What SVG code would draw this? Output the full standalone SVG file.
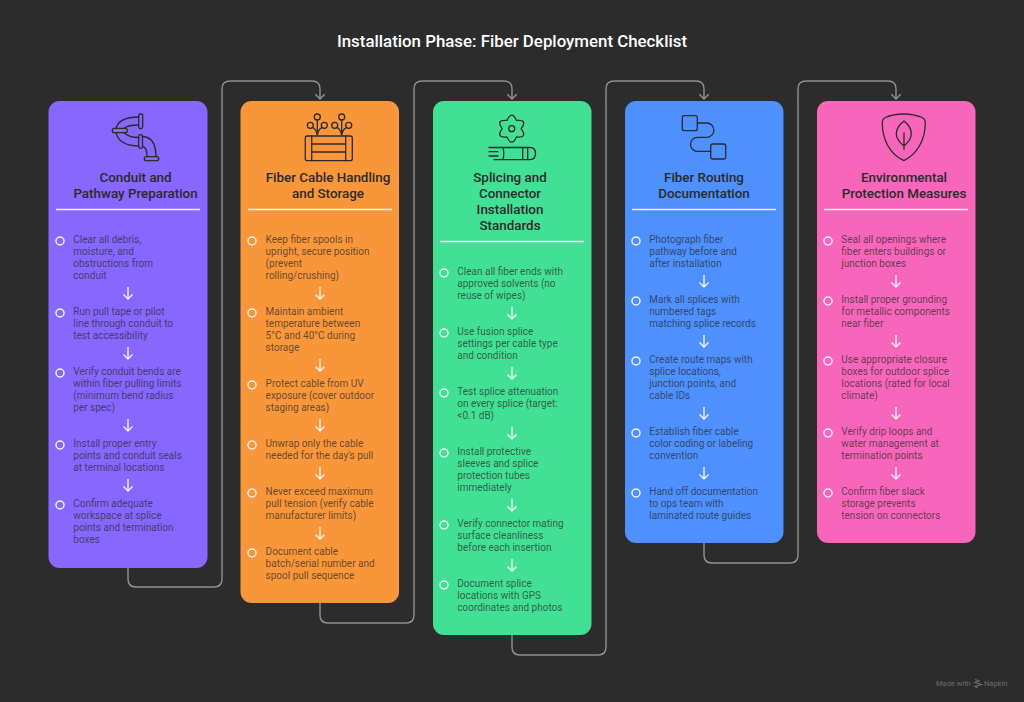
<svg xmlns="http://www.w3.org/2000/svg" width="1024" height="702" viewBox="0 0 1024 702">
<style>
text{font-family:Roboto,"Liberation Sans",sans-serif}
.ti{font-size:16.85px;font-weight:500;fill:#fff;text-anchor:middle}
.h{font-size:13.4px;font-weight:500;fill:#2b2b2b;text-anchor:middle}
.t{font-size:10px;fill:#2b2b2b;fill-opacity:.72}
.rule{stroke:#fff;stroke-width:1.3;opacity:.9}
.b{fill:none;stroke:#fff;stroke-width:1.5;opacity:.9}
.a{fill:none;stroke:#fff;stroke-width:1.4;opacity:.9}
.c{fill:none;stroke:#909090;stroke-width:1.4}
.i{fill:none;stroke:#2b2b2b;stroke-width:1.3;stroke-linejoin:round;stroke-linecap:round}
</style>
<defs>
<path id="ad" d="M0 -6V6M-4.500 1.500L0 6L4.500 1.500"/>
</defs>
<rect width="1024" height="702" fill="#2c2c2c"/>
<text class="ti" x="512" y="47">Installation Phase: Fiber Deployment Checklist</text>
<g id="connectors">
<path class="c" d="M128 568V579Q128 587 136 587H214Q222 587 222 579V89Q222 81 230 81H312Q320 81 320 89V99M315.300 94.300L320 99L324.700 94.300"/>
<path class="c" d="M320 603V615Q320 623 328 623H406Q414 623 414 615V89Q414 81 422 81H504Q512 81 512 89V99M507.300 94.300L512 99L516.700 94.300"/>
<path class="c" d="M512 635V647Q512 655 520 655H598Q606 655 606 647V89Q606 81 614 81H696Q704 81 704 89V99M699.300 94.300L704 99L708.700 94.300"/>
<path class="c" d="M704 543V555Q704 563 712 563H790Q798 563 798 555V89Q798 81 806 81H888Q896 81 896 89V99M891.300 94.300L896 99L900.700 94.300"/>
</g>
<g id="card1">
<rect x="48.500" y="101" width="159" height="467" rx="11" fill="#8667ff"/>
<g class="i"><rect x="138.700" y="114" width="4" height="14.500" rx="1.500"/><rect x="112.300" y="128.300" width="15" height="4.400" rx="2"/><rect x="138.700" y="134.700" width="3.800" height="13.600" rx="1.500"/><rect x="144.300" y="156.700" width="14.400" height="4" rx="2"/><path d="M138.700 117Q119 117 116 128.300M138.700 125Q128 125 124 128.300M116 132.700Q119 146 138.700 146M124 132.700Q129 137.500 138.700 137.500M142.500 136.500Q156 137 156 156.700M142.500 146.500Q147 147 147 156.700"/></g>
<text class="h" x="135.500" y="182">Conduit and</text>
<text class="h" x="135.500" y="198">Pathway Preparation</text>
<line class="rule" x1="56" x2="200" y1="209.500" y2="209.500"/>
<circle class="b" cx="60" cy="241" r="4"/>
<text class="t" x="73.300" y="242.500">Clear all debris,</text>
<text class="t" x="73.300" y="254.500">moisture, and</text>
<text class="t" x="73.300" y="266.500">obstructions from</text>
<text class="t" x="73.300" y="278.500">conduit</text>
<use href="#ad" class="a" x="128" y="293"/>
<circle class="b" cx="60" cy="313" r="4"/>
<text class="t" x="73.300" y="314.500">Run pull tape or pilot</text>
<text class="t" x="73.300" y="326.500">line through conduit to</text>
<text class="t" x="73.300" y="338.500">test accessibility</text>
<use href="#ad" class="a" x="128" y="353"/>
<circle class="b" cx="60" cy="373" r="4"/>
<text class="t" x="73.300" y="374.500">Verify conduit bends are</text>
<text class="t" x="73.300" y="386.500">within fiber pulling limits</text>
<text class="t" x="73.300" y="398.500">(minimum bend radius</text>
<text class="t" x="73.300" y="410.500">per spec)</text>
<use href="#ad" class="a" x="128" y="425"/>
<circle class="b" cx="60" cy="445" r="4"/>
<text class="t" x="73.300" y="446.500">Install proper entry</text>
<text class="t" x="73.300" y="458.500">points and conduit seals</text>
<text class="t" x="73.300" y="470.500">at terminal locations</text>
<use href="#ad" class="a" x="128" y="485"/>
<circle class="b" cx="60" cy="505" r="4"/>
<text class="t" x="73.300" y="506.500">Confirm adequate</text>
<text class="t" x="73.300" y="518.500">workspace at splice</text>
<text class="t" x="73.300" y="530.500">points and termination</text>
<text class="t" x="73.300" y="542.500">boxes</text>
</g>
<g id="card2">
<rect x="240.500" y="101" width="158.500" height="502" rx="11" fill="#f99639"/>
<g class="i"><rect x="305.300" y="136" width="47" height="24.700" rx="2"/><path d="M311.700 136V160.700M345.700 136V160.700M311.700 144H345.700M311.700 152H345.700"/><circle cx="317.300" cy="117" r="3"/><circle cx="310.300" cy="125.300" r="3"/><circle cx="324.300" cy="125.300" r="3"/><path d="M317.300 120V135M317.300 135Q316 129 312.500 127.500M317.300 135Q318.500 129 322 127.500"/><circle cx="341.700" cy="117" r="3"/><circle cx="334.700" cy="125.300" r="3"/><circle cx="348.700" cy="125.300" r="3"/><path d="M341.700 120V135M341.700 135Q340.500 129 337 127.500M341.700 135Q343 129 346.500 127.500"/></g>
<text class="h" x="328" y="182">Fiber Cable Handling</text>
<text class="h" x="328" y="198">and Storage</text>
<line class="rule" x1="248" x2="392" y1="209.500" y2="209.500"/>
<circle class="b" cx="252" cy="241" r="4"/>
<text class="t" x="265.600" y="242.500">Keep fiber spools in</text>
<text class="t" x="265.600" y="254.500">upright, secure position</text>
<text class="t" x="265.600" y="266.500">(prevent</text>
<text class="t" x="265.600" y="278.500">rolling/crushing)</text>
<use href="#ad" class="a" x="320" y="293"/>
<circle class="b" cx="252" cy="313" r="4"/>
<text class="t" x="265.600" y="314.500">Maintain ambient</text>
<text class="t" x="265.600" y="326.500">temperature between</text>
<text class="t" x="265.600" y="338.500">5°C and 40°C during</text>
<text class="t" x="265.600" y="350.500">storage</text>
<use href="#ad" class="a" x="320" y="365"/>
<circle class="b" cx="252" cy="385" r="4"/>
<text class="t" x="265.600" y="386.500">Protect cable from UV</text>
<text class="t" x="265.600" y="398.500">exposure (cover outdoor</text>
<text class="t" x="265.600" y="410.500">staging areas)</text>
<use href="#ad" class="a" x="320" y="425"/>
<circle class="b" cx="252" cy="445" r="4"/>
<text class="t" x="265.600" y="446.500">Unwrap only the cable</text>
<text class="t" x="265.600" y="458.500">needed for the day's pull</text>
<use href="#ad" class="a" x="320" y="473"/>
<circle class="b" cx="252" cy="493" r="4"/>
<text class="t" x="265.600" y="494.500">Never exceed maximum</text>
<text class="t" x="265.600" y="506.500">pull tension (verify cable</text>
<text class="t" x="265.600" y="518.500">manufacturer limits)</text>
<use href="#ad" class="a" x="320" y="533"/>
<circle class="b" cx="252" cy="553" r="4"/>
<text class="t" x="265.600" y="554.500">Document cable</text>
<text class="t" x="265.600" y="566.500">batch/serial number and</text>
<text class="t" x="265.600" y="578.500">spool pull sequence</text>
</g>
<g id="card3">
<rect x="433" y="101" width="158.500" height="534" rx="11" fill="#41e094"/>
<g class="i"><circle cx="511.700" cy="128.700" r="3"/><path transform="translate(511.700 128.700)" d="M-4.750 -8.230Q0 -18.800 4.750 -8.230Q16.280 -9.400 9.500 0Q16.280 9.400 4.750 8.230Q0 18.800 -4.750 8.230Q-16.280 9.400 -9.500 0Q-16.280 -9.400 -4.750 -8.230Z"/><path d="M489 147.500H530Q535.500 147.500 535.500 153.600Q535.500 159.700 530 159.700H494M503 147.500Q504.500 153.600 503 159.700M489 151.700H498M489 156H498M522.700 147.500V159.700M527.700 147.500V159.700"/></g>
<text class="h" x="510" y="182">Splicing and</text>
<text class="h" x="510" y="198">Connector</text>
<text class="h" x="510" y="214">Installation</text>
<text class="h" x="510" y="230">Standards</text>
<line class="rule" x1="440" x2="584" y1="241.500" y2="241.500"/>
<circle class="b" cx="444" cy="273" r="4"/>
<text class="t" x="457.300" y="274.500">Clean all fiber ends with</text>
<text class="t" x="457.300" y="286.500">approved solvents (no</text>
<text class="t" x="457.300" y="298.500">reuse of wipes)</text>
<use href="#ad" class="a" x="512" y="313"/>
<circle class="b" cx="444" cy="333" r="4"/>
<text class="t" x="457.300" y="334.500">Use fusion splice</text>
<text class="t" x="457.300" y="346.500">settings per cable type</text>
<text class="t" x="457.300" y="358.500">and condition</text>
<use href="#ad" class="a" x="512" y="373"/>
<circle class="b" cx="444" cy="393" r="4"/>
<text class="t" x="457.300" y="394.500">Test splice attenuation</text>
<text class="t" x="457.300" y="406.500">on every splice (target:</text>
<text class="t" x="457.300" y="418.500">&lt;0.1 dB)</text>
<use href="#ad" class="a" x="512" y="433"/>
<circle class="b" cx="444" cy="453" r="4"/>
<text class="t" x="457.300" y="454.500">Install protective</text>
<text class="t" x="457.300" y="466.500">sleeves and splice</text>
<text class="t" x="457.300" y="478.500">protection tubes</text>
<text class="t" x="457.300" y="490.500">immediately</text>
<use href="#ad" class="a" x="512" y="505"/>
<circle class="b" cx="444" cy="525" r="4"/>
<text class="t" x="457.300" y="526.500">Verify connector mating</text>
<text class="t" x="457.300" y="538.500">surface cleanliness</text>
<text class="t" x="457.300" y="550.500">before each insertion</text>
<use href="#ad" class="a" x="512" y="565"/>
<circle class="b" cx="444" cy="585" r="4"/>
<text class="t" x="457.300" y="586.500">Document splice</text>
<text class="t" x="457.300" y="598.500">locations with GPS</text>
<text class="t" x="457.300" y="610.500">coordinates and photos</text>
</g>
<g id="card4">
<rect x="625" y="101" width="158.500" height="442" rx="11" fill="#4d90fe"/>
<g class="i"><rect x="682.300" y="115.700" width="15" height="15" rx="2"/><rect x="710.700" y="144" width="15" height="15" rx="2"/><path d="M697.300 123H707.500A7.200 7.200 0 0 1 707.500 137.300H697.500A7 7 0 0 0 697.500 151.300H710.700"/></g>
<text class="h" x="704" y="182">Fiber Routing</text>
<text class="h" x="704" y="198">Documentation</text>
<line class="rule" x1="632" x2="776" y1="209.500" y2="209.500"/>
<circle class="b" cx="636" cy="241" r="4"/>
<text class="t" x="649.300" y="242.500">Photograph fiber</text>
<text class="t" x="649.300" y="254.500">pathway before and</text>
<text class="t" x="649.300" y="266.500">after installation</text>
<use href="#ad" class="a" x="704" y="281"/>
<circle class="b" cx="636" cy="301" r="4"/>
<text class="t" x="649.300" y="302.500">Mark all splices with</text>
<text class="t" x="649.300" y="314.500">numbered tags</text>
<text class="t" x="649.300" y="326.500">matching splice records</text>
<use href="#ad" class="a" x="704" y="341"/>
<circle class="b" cx="636" cy="361" r="4"/>
<text class="t" x="649.300" y="362.500">Create route maps with</text>
<text class="t" x="649.300" y="374.500">splice locations,</text>
<text class="t" x="649.300" y="386.500">junction points, and</text>
<text class="t" x="649.300" y="398.500">cable IDs</text>
<use href="#ad" class="a" x="704" y="413"/>
<circle class="b" cx="636" cy="433" r="4"/>
<text class="t" x="649.300" y="434.500">Establish fiber cable</text>
<text class="t" x="649.300" y="446.500">color coding or labeling</text>
<text class="t" x="649.300" y="458.500">convention</text>
<use href="#ad" class="a" x="704" y="473"/>
<circle class="b" cx="636" cy="493" r="4"/>
<text class="t" x="649.300" y="494.500">Hand off documentation</text>
<text class="t" x="649.300" y="506.500">to ops team with</text>
<text class="t" x="649.300" y="518.500">laminated route guides</text>
</g>
<g id="card5">
<rect x="817" y="101" width="158.500" height="442" rx="11" fill="#f766bb"/>
<g class="i"><path d="M903.800 114Q914 114 922 117.500Q925.300 119 925.300 123C925.300 140 917 154 903.800 160.700C890 154 882.300 140 882.300 123Q882.300 119 885.500 117.500Q893 114 903.800 114Z"/><path d="M904 121Q896.300 127 896.300 133.500Q896.300 140 904 146Q911.300 140 911.300 133.500Q911.300 127 904 121ZM904 133V149.300"/></g>
<text class="h" x="904" y="182">Environmental</text>
<text class="h" x="904" y="198">Protection Measures</text>
<line class="rule" x1="824" x2="968" y1="209.500" y2="209.500"/>
<circle class="b" cx="828" cy="241" r="4"/>
<text class="t" x="841.300" y="242.500">Seal all openings where</text>
<text class="t" x="841.300" y="254.500">fiber enters buildings or</text>
<text class="t" x="841.300" y="266.500">junction boxes</text>
<use href="#ad" class="a" x="896" y="281"/>
<circle class="b" cx="828" cy="301" r="4"/>
<text class="t" x="841.300" y="302.500">Install proper grounding</text>
<text class="t" x="841.300" y="314.500">for metallic components</text>
<text class="t" x="841.300" y="326.500">near fiber</text>
<use href="#ad" class="a" x="896" y="341"/>
<circle class="b" cx="828" cy="361" r="4"/>
<text class="t" x="841.300" y="362.500">Use appropriate closure</text>
<text class="t" x="841.300" y="374.500">boxes for outdoor splice</text>
<text class="t" x="841.300" y="386.500">locations (rated for local</text>
<text class="t" x="841.300" y="398.500">climate)</text>
<use href="#ad" class="a" x="896" y="413"/>
<circle class="b" cx="828" cy="433" r="4"/>
<text class="t" x="841.300" y="434.500">Verify drip loops and</text>
<text class="t" x="841.300" y="446.500">water management at</text>
<text class="t" x="841.300" y="458.500">termination points</text>
<use href="#ad" class="a" x="896" y="473"/>
<circle class="b" cx="828" cy="493" r="4"/>
<text class="t" x="841.300" y="494.500">Confirm fiber slack</text>
<text class="t" x="841.300" y="506.500">storage prevents</text>
<text class="t" x="841.300" y="518.500">tension on connectors</text>
</g>
<text x="936" y="686" font-size="7.500" fill="#6a6a6a">Made with</text>
<path d="M975 679.500L979 681L975 682.500L981.500 684.500L975 686.500L978 688" fill="none" stroke="#6a6a6a" stroke-width="1.300"/>
<text x="984" y="686" font-size="7.500" fill="#6a6a6a">Napkin</text>
</svg>
